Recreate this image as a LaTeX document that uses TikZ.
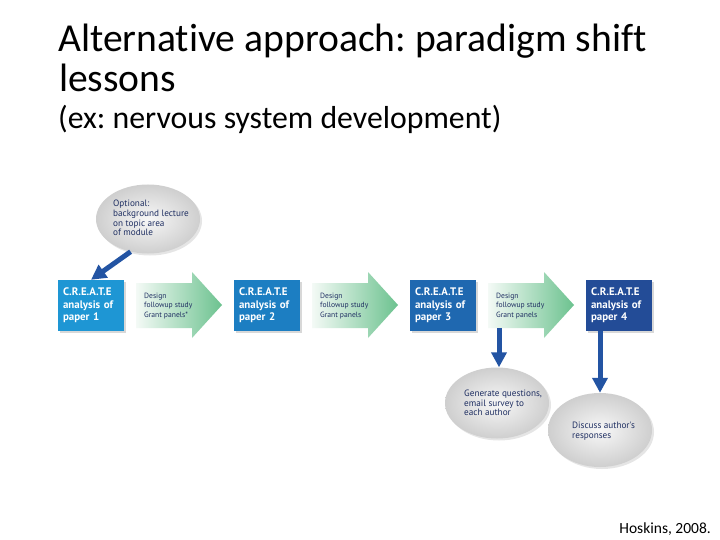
\documentclass[tikz,border=0pt]{standalone}
\usepackage{fontspec}
\setmainfont{Carlito}[Ligatures=NoCommon]
\newfontfamily\diagfont{PT Sans}
\usetikzlibrary{shapes.geometric,arrows.meta,shadows}
\frenchspacing
\definecolor{cA}{HTML}{1E96D4}
\definecolor{cB}{HTML}{1C7EC2}
\definecolor{cC}{HTML}{1F68B0}
\definecolor{cD}{HTML}{234C97}
\definecolor{arrowblue}{HTML}{2354A3}
\definecolor{navy}{HTML}{1F2F62}
\definecolor{greenR}{HTML}{6CC28F}
\definecolor{greenL}{HTML}{F4FAF6}
\begin{document}
\frenchspacing
\begin{tikzpicture}[x=1pt,y=-1pt,
  boxnode/.style={rectangle, minimum width=66pt, minimum height=51pt, inner xsep=5pt,
    text width=56pt, align=left, text=white,
    font=\diagfont\bfseries\fontsize{10.9}{12.5}\selectfont,
    drop shadow={opacity=0.3,shadow xshift=2pt,shadow yshift=-2pt}},
  bubble/.style={ellipse, minimum width=104pt, minimum height=69pt, inner sep=0pt,
    inner color=gray!6, outer color=gray!38,
    drop shadow={opacity=0.2,shadow xshift=2pt,shadow yshift=-2pt}},
  smalltext/.style={inner sep=0pt, align=left, text=navy,
    font=\diagfont\fontsize{7.6}{9.8}\selectfont},
  bubbletext/.style={inner sep=0pt, align=left, text=navy,
    font=\diagfont\fontsize{9.2}{9.6}\selectfont},
  greenarrow/.style={left color=greenL, right color=greenR},
  bluearrow/.style={draw=arrowblue, line width=5pt,
    -{Triangle[width=15pt,length=15pt]}}
]
\useasboundingbox (0,0) rectangle (720,540);
\fill[white] (0,0) rectangle (720,540);

% titles
\node[anchor=base west, inner sep=0pt, font=\fontsize{39.6}{40}\selectfont] (title1) at (58,51.7) {Alternative approach: paradigm shift};
\node[anchor=base west, inner sep=0pt, font=\fontsize{39.6}{40}\selectfont] (title2) at (59,91.7) {lessons};
\node[anchor=base west, inner sep=0pt, font=\fontsize{31.8}{32}\selectfont] (subtitle) at (58,129) {(ex: nervous system development)};
\node[anchor=base east, inner sep=0pt, font=\fontsize{15.5}{15.5}\selectfont] (cite) at (711,533) {Hoskins, 2008.};

% green arrows
\foreach \dx/\nm/\txt in {0/g1/{Design\\followup study\\Grant panels*}, 176/g2/{Design\\followup study\\Grant panels}, 352/g3/{Design\\followup study\\Grant panels}}{
  \begin{scope}[xshift=\dx pt]
    \path[greenarrow] (136,283) -- (192,283) -- (192,272) -- (222,305) -- (192,338) -- (192,328) -- (136,328) -- cycle;
    \node[smalltext, anchor=west] (\nm) at (144,306) {\txt};
  \end{scope}
}
\coordinate (g3b) at (499,328);

% boxes
\node[boxnode, fill=cA] (b1) at (91,305.5) {C.R.E.A.T.E\\analysis of\\paper 1};
\node[boxnode, fill=cB] (b2) at (267,305.5) {C.R.E.A.T.E\\analysis of\\paper 2};
\node[boxnode, fill=cC] (b3) at (443,305.5) {C.R.E.A.T.E\\analysis of\\paper 3};
\node[boxnode, fill=cD] (b4) at (619,305.5) {C.R.E.A.T.E\\analysis of\\paper 4};

% bubbles
\node[bubble] (e1) at (148,219) {};
\node[bubbletext, anchor=west] (e1t) at (113,218) {Optional:\\background lecture\\on topic area\\of module};
\node[bubble, minimum height=71pt] (e2) at (497,403) {};
\node[bubbletext, anchor=west] (e2t) at (464,403) {Generate questions,\\email survey to\\each author};
\node[bubble, minimum height=74pt] (e3) at (600,430) {};
\node[bubbletext, anchor=west] (e3t) at (572,431) {Discuss author's\\responses};

% blue arrows
\draw[bluearrow] (e1.242) -- (b1.north);
\draw[bluearrow] (g3b) -- (g3b |- e2.north);
\draw[bluearrow] (b4.south -| e3.north) -- (e3.north);
\end{tikzpicture}
\end{document}
